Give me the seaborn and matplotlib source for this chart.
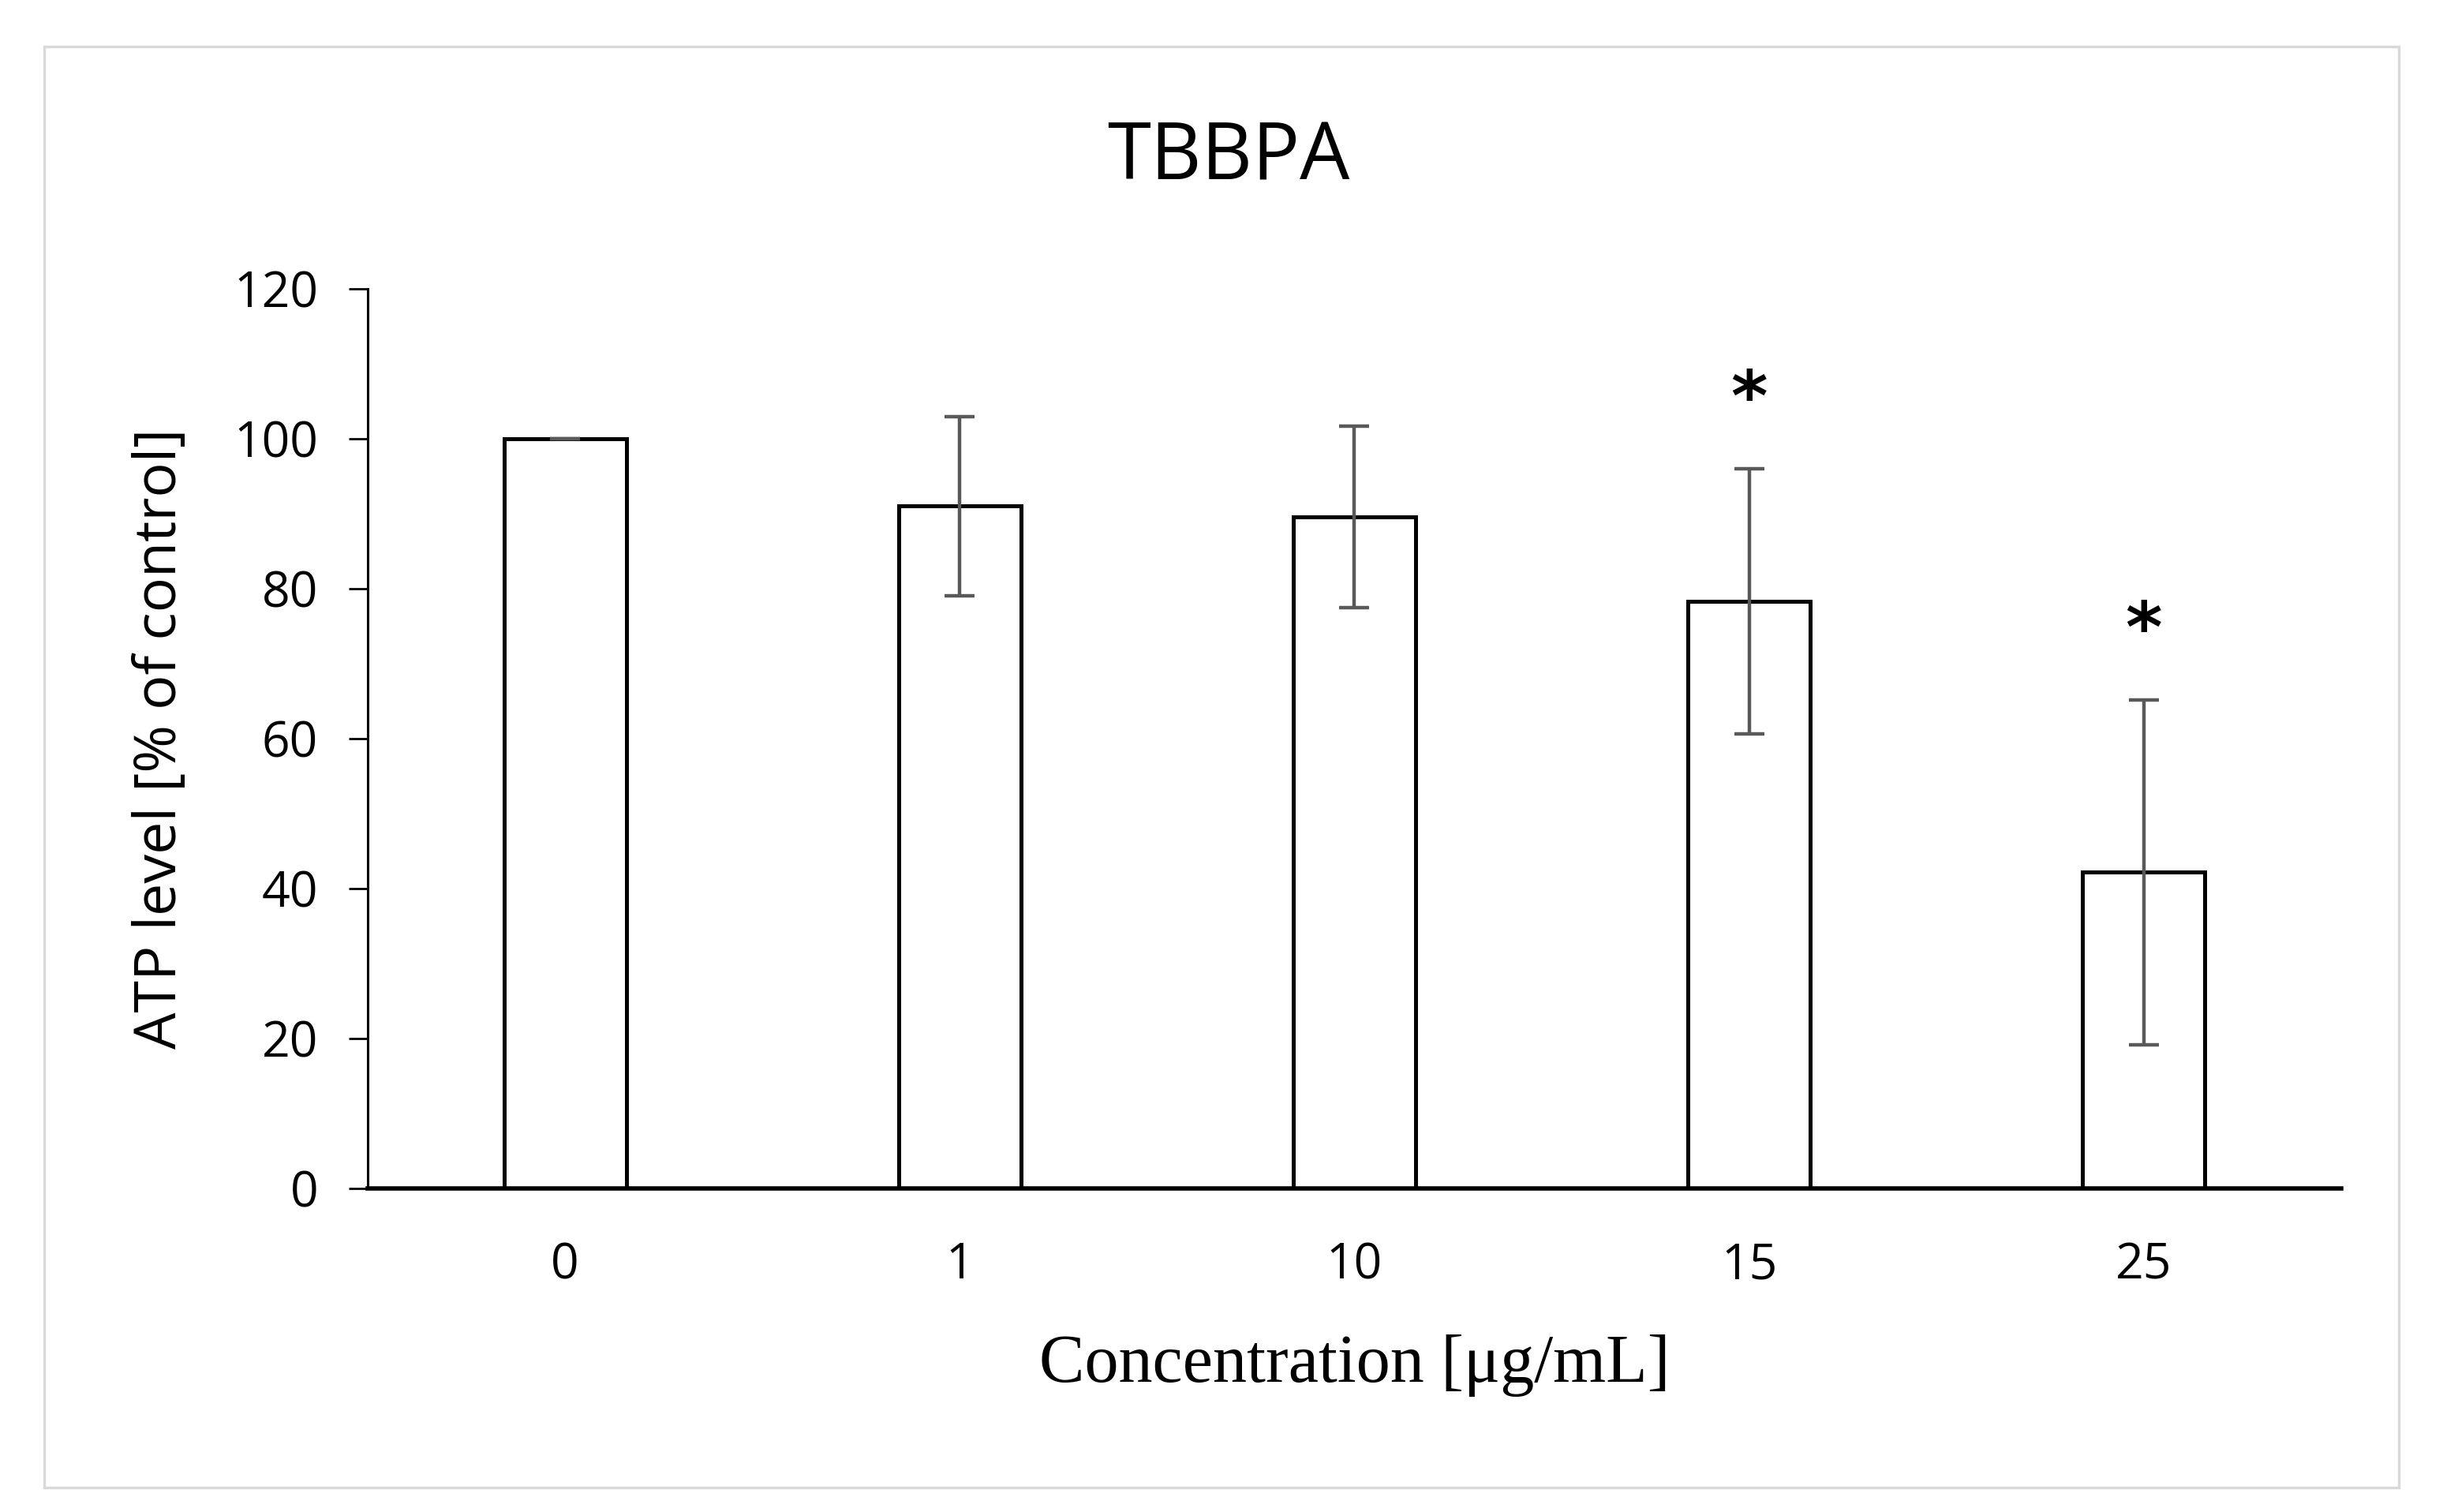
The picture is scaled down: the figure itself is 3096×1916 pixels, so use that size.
import matplotlib
matplotlib.use("Agg")
import matplotlib.pyplot as plt
import seaborn as sns
import pandas as pd
from matplotlib.patches import Rectangle

concentrations = ["0", "1", "10", "15", "25"]
atp_mean = [100.0, 91.0, 89.6, 78.3, 42.2]
atp_sd = [0.0, 11.9, 12.1, 17.7, 23.0]
significant = [False, False, False, True, True]

df = pd.DataFrame({"conc": concentrations, "atp": atp_mean})

sns.set_theme(style="white")
plt.rcParams["font.family"] = ["Open Sans", "DejaVu Sans"]

fig = plt.figure(figsize=(15.48, 9.58), dpi=200)
ax = fig.add_axes([0.1505, 0.214, 0.8078, 0.595])

sns.barplot(data=df, x="conc", y="atp", order=concentrations, errorbar=None,
            color="white", edgecolor="black", linewidth=1.8, width=0.31, ax=ax)
ax.errorbar(range(len(concentrations)), atp_mean, yerr=atp_sd, fmt="none",
            ecolor="#595959", elinewidth=1.6, capsize=6.8, capthick=1.6, zorder=5)

for i, (m, s, sig) in enumerate(zip(atp_mean, atp_sd, significant)):
    if sig:
        ax.text(i, m + s + 9.0, "*", ha="center", va="center", fontsize=32,
                fontweight="bold", family=["DejaVu Sans"], color="black")

ax.set_xlim(-0.5, 4.5)
ax.set_ylim(0, 120)
ax.set_yticks([0, 20, 40, 60, 80, 100, 120])
ax.tick_params(axis="y", which="both", left=True, length=8.6, width=1.0,
               pad=14, labelsize=22.5, color="black")
ax.tick_params(axis="x", bottom=False, pad=18, labelsize=22.5)
for lab in ax.get_xticklabels() + ax.get_yticklabels():
    lab.set_color("black")

for side in ["top", "right"]:
    ax.spines[side].set_visible(False)
ax.spines["left"].set_color("black")
ax.spines["left"].set_linewidth(1.1)
ax.spines["bottom"].set_color("black")
ax.spines["bottom"].set_linewidth(2.0)

ax.set_xlabel("Concentration [μg/mL]", fontsize=31, family=["Liberation Serif", "DejaVu Serif"],
              color="black", labelpad=20)
ax.set_ylabel("ATP level [% of control]", fontsize=26.5, color="black", labelpad=20)

fig.text(0.503, 0.895, "TBBPA", ha="center", va="center", fontsize=36, color="black")

fig.patches.append(Rectangle((0.018, 0.016), 0.964, 0.953, transform=fig.transFigure,
                             fill=False, edgecolor="#d9d9d9", linewidth=1.2))

fig.savefig("out.png", dpi=200, facecolor="white")
